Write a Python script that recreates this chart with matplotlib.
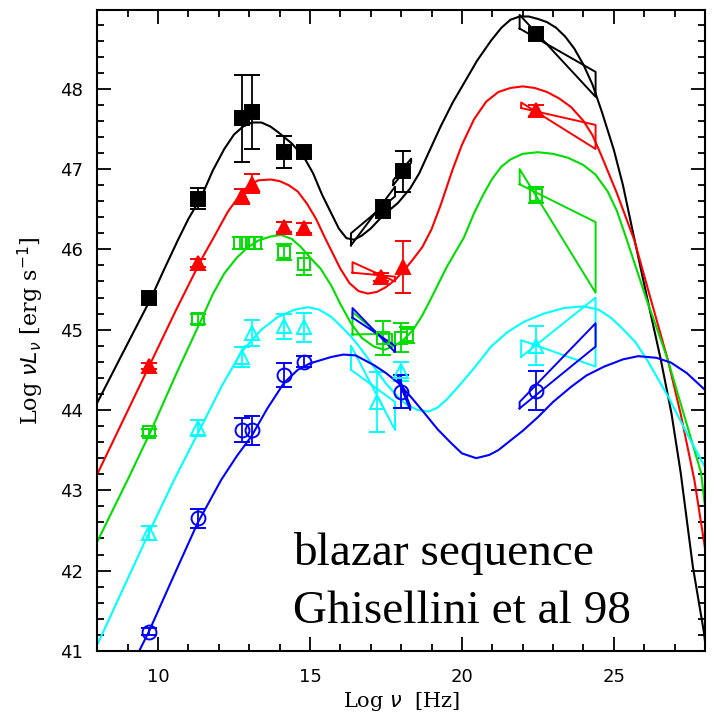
import matplotlib
matplotlib.use("Agg")
import matplotlib.pyplot as plt
from matplotlib.ticker import MultipleLocator

# ---------------- model curves ----------------
black_x = [8.0, 8.8, 9.78, 10.2, 10.66, 11.0, 11.42, 11.8, 12.18, 12.5, 12.8, 13.1, 13.4, 13.7, 13.95, 14.4, 14.8, 15.1, 15.4, 15.7, 15.95, 16.2, 16.45, 16.7, 17.0, 17.4, 17.9, 18.3, 18.6, 18.9, 19.3, 19.7, 20.07, 20.5, 20.96, 21.3, 21.6, 21.9, 22.2, 22.5, 22.8, 23.1, 23.4, 23.7, 24.0, 24.3, 24.6, 25.0, 25.3, 25.67, 26.1, 26.55, 26.9, 27.2, 27.6, 27.97, 28.0]
black_y = [44.09, 44.68, 45.4, 45.75, 46.12, 46.38, 46.65, 46.98, 47.25, 47.43, 47.53, 47.58, 47.58, 47.53, 47.46, 47.32, 47.15, 46.95, 46.68, 46.45, 46.26, 46.14, 46.12, 46.17, 46.26, 46.42, 46.58, 46.76, 46.95, 47.2, 47.53, 47.83, 48.07, 48.35, 48.6, 48.76, 48.86, 48.9, 48.9, 48.87, 48.83, 48.76, 48.65, 48.5, 48.3, 48.05, 47.72, 47.24, 46.8, 46.14, 45.39, 44.62, 43.95, 43.22, 42.05, 41.22, 41.12]

red_x = [8.0, 9.7, 10.6, 11.42, 11.85, 12.3, 12.74, 13.0, 13.3, 13.72, 14.0, 14.3, 14.6, 14.9, 15.2, 15.5, 15.75, 16.0, 16.3, 16.6, 16.9, 17.2, 17.5, 17.8, 18.1, 18.4, 18.7, 19.0, 19.3, 19.7, 20.0, 20.4, 20.8, 21.2, 21.6, 22.0, 22.4, 22.8, 23.2, 23.6, 24.0, 24.3, 24.6, 25.1, 25.67, 26.2, 26.78, 27.2, 27.65, 28.0]
red_y = [43.2, 44.54, 45.25, 45.87, 46.16, 46.47, 46.7, 46.8, 46.86, 46.87, 46.85, 46.8, 46.72, 46.57, 46.38, 46.14, 45.95, 45.76, 45.58, 45.48, 45.45, 45.47, 45.53, 45.62, 45.74, 45.88, 46.03, 46.25, 46.55, 47.0, 47.3, 47.62, 47.84, 47.96, 48.01, 48.03, 48.01, 47.96, 47.88, 47.77, 47.6, 47.42, 47.16, 46.7, 46.12, 45.4, 44.62, 43.95, 43.13, 42.28]

green_x = [8.0, 9.0, 9.78, 10.6, 11.42, 11.8, 12.18, 12.6, 12.97, 13.3, 13.7, 14.05, 14.4, 14.7, 15.0, 15.35, 15.7, 16.0, 16.35, 16.7, 17.1, 17.45, 17.8, 18.1, 18.4, 18.7, 19.0, 19.5, 20.07, 20.4, 20.7, 21.0, 21.3, 21.6, 22.0, 22.5, 23.0, 23.5, 24.0, 24.4, 24.8, 25.1, 25.4, 25.75, 26.1, 26.45, 26.78, 27.3, 27.87, 28.0]
green_y = [42.36, 43.13, 43.75, 44.45, 45.12, 45.44, 45.7, 45.9, 46.03, 46.11, 46.16, 46.18, 46.13, 46.03, 45.9, 45.76, 45.55, 45.32, 45.08, 44.9, 44.79, 44.75, 44.8, 44.88, 45.0, 45.18, 45.4, 45.78, 46.15, 46.45, 46.68, 46.88, 47.03, 47.12, 47.19, 47.21, 47.19, 47.14, 47.05, 46.93, 46.72, 46.48, 46.15, 45.75, 45.35, 44.98, 44.62, 43.95, 43.22, 42.8]

cyan_x = [8.03, 9.7, 10.53, 11.42, 12.1, 12.74, 13.4, 13.95, 14.5, 14.94, 15.3, 15.7, 16.0, 16.36, 16.7, 17.1, 17.5, 17.9, 18.2, 18.55, 18.9, 19.2, 19.5, 19.88, 20.4, 20.96, 21.5, 22.05, 22.7, 23.36, 24.0, 24.5, 24.9, 25.24, 25.7, 26.1, 26.8, 27.4, 28.0]
cyan_y = [41.1, 42.47, 43.13, 43.79, 44.3, 44.72, 45.0, 45.16, 45.25, 45.28, 45.25, 45.16, 45.05, 44.91, 44.75, 44.54, 44.33, 44.16, 44.06, 44.0, 43.98, 44.03, 44.13, 44.29, 44.52, 44.79, 44.97, 45.1, 45.2, 45.27, 45.29, 45.25, 45.15, 45.03, 44.85, 44.62, 44.16, 43.71, 43.29]

blue_x = [9.25, 9.7, 10.5, 11.3, 12.08, 12.6, 13.07, 13.6, 14.15, 14.6, 15.0, 15.7, 16.1, 16.5, 17.1, 17.5, 17.9, 18.35, 18.77, 19.2, 19.64, 20.0, 20.47, 20.9, 21.2, 21.5, 22.0, 22.5, 23.0, 23.6, 24.1, 24.68, 25.3, 25.8, 26.4, 26.88, 27.4, 28.0]
blue_y = [40.9, 41.24, 41.92, 42.59, 43.13, 43.43, 43.67, 44.02, 44.34, 44.5, 44.58, 44.66, 44.69, 44.68, 44.56, 44.46, 44.34, 44.15, 43.96, 43.76, 43.59, 43.46, 43.4, 43.44, 43.5, 43.59, 43.74, 43.91, 44.1, 44.29, 44.43, 44.54, 44.63, 44.67, 44.65, 44.59, 44.46, 44.25]

# ---------------- data points ----------------
black_px = [9.7, 11.3, 12.75, 13.1, 14.15, 14.8, 17.4, 18.05, 22.45]
black_py = [45.4, 46.63, 47.63, 47.71, 47.21, 47.21, 46.5, 46.97, 48.68]
black_pe = [0.03, 0.13, 0.54, 0.46, 0.2, 0.06, 0.11, 0.26, 0.07]

red_px = [9.7, 11.3, 12.75, 13.1, 14.15, 14.8, 17.35, 18.05, 22.45]
red_py = [44.55, 45.83, 46.66, 46.82, 46.28, 46.27, 45.66, 45.78, 47.73]
red_pe = [0.04, 0.05, 0.09, 0.12, 0.06, 0.06, 0.05, 0.32, 0.07]

green_px = [9.7, 11.3, 12.7, 12.95, 13.2, 14.15, 14.8, 17.4, 18.0, 18.2, 22.45]
green_py = [43.72, 45.13, 46.08, 46.08, 46.08, 45.97, 45.82, 44.9, 44.9, 44.93, 46.68]
green_pe = [0.04, 0.06, 0.07, 0.07, 0.07, 0.1, 0.14, 0.21, 0.18, 0.1, 0.1]

cyan_px = [9.7, 11.3, 12.75, 13.1, 14.15, 14.8, 17.2, 18.0, 22.45]
cyan_py = [42.47, 43.78, 44.66, 44.96, 45.04, 45.03, 44.1, 44.48, 44.8]
cyan_pe = [0.09, 0.1, 0.12, 0.16, 0.15, 0.18, 0.37, 0.12, 0.24]

blue_px = [9.7, 11.3, 12.75, 13.1, 14.15, 14.8, 18.0, 22.45]
blue_py = [41.24, 42.65, 43.75, 43.75, 44.44, 44.6, 44.23, 44.24]
blue_pe = [0.04, 0.12, 0.15, 0.18, 0.15, 0.07, 0.2, 0.24]

# ---------------- bow-ties (x-ray and gamma-ray spectra) ----------------
black_bow = [
    [(16.35, 46.05), (16.35, 46.2), (17.8, 46.66), (17.8, 46.78)],
    [(17.74, 46.8), (17.74, 46.86), (18.33, 47.13), (18.33, 47.08)],
    [(21.9, 48.75), (21.9, 48.92), (24.4, 47.9), (24.4, 48.21)],
]
red_bow = [
    [(16.4, 45.71), (16.4, 45.84), (17.8, 45.6), (17.8, 45.66)],
    [(21.95, 47.76), (21.95, 47.83), (24.4, 47.25), (24.4, 47.55)],
]
green_bow = [
    [(16.4, 44.94), (16.4, 45.22), (17.7, 44.8), (17.7, 44.95)],
    [(21.9, 46.81), (21.9, 47.0), (24.4, 45.46), (24.4, 46.34)],
]
cyan_bow = [
    [(16.35, 44.5), (16.35, 44.8), (17.8, 43.75), (17.8, 44.1)],
    [(21.95, 44.66), (21.95, 44.87), (24.4, 44.54), (24.4, 45.4)],
]
blue_bow = [
    [(16.4, 45.15), (16.4, 45.27), (17.8, 44.72), (17.8, 44.8)],
    [(17.9, 44.38), (17.9, 44.43), (18.3, 44.05), (18.3, 44.0)],
    [(21.9, 44.02), (21.9, 44.1), (24.4, 45.08), (24.4, 44.79)],
]

series = [
    ("black", black_x, black_y, black_px, black_py, black_pe, black_bow, "s", "black", 10),
    ("#ff0000", red_x, red_y, red_px, red_py, red_pe, red_bow, "^", "#ff0000", 9.5),
    ("#00dd00", green_x, green_y, green_px, green_py, green_pe, green_bow, "s", "none", 8),
    ("#00ffff", cyan_x, cyan_y, cyan_px, cyan_py, cyan_pe, cyan_bow, "^", "none", 9.5),
    ("#0000ff", blue_x, blue_y, blue_px, blue_py, blue_pe, blue_bow, "o", "none", 10),
]

fig = plt.figure(figsize=(7.15, 7.2), dpi=100)
ax = fig.add_axes([0.136, 0.096, 0.850, 0.890])

for col, cx, cy, px, py, pe, bows, mk, fc, ms in series:
    ax.plot(cx, cy, color=col, lw=1.5)
    ax.errorbar(px, py, yerr=pe, fmt=mk, color=col, mfc=fc, mec=col,
                ms=ms, mew=1.4, elinewidth=1.3, capsize=6, capthick=1.3)
    for b in bows:
        bx = [p[0] for p in b] + [b[0][0]]
        by = [p[1] for p in b] + [b[0][1]]
        ax.plot(bx, by, color=col, lw=1.4)

ax.set_xlim(8, 28)
ax.set_ylim(41, 48.98)
ax.xaxis.set_major_locator(MultipleLocator(5))
ax.xaxis.set_minor_locator(MultipleLocator(1))
ax.yaxis.set_major_locator(MultipleLocator(1))
ax.yaxis.set_minor_locator(MultipleLocator(0.2))
ax.tick_params(which="both", direction="in", top=True, right=True, width=1.3)
ax.tick_params(which="major", length=10, labelsize=13, pad=10)
ax.tick_params(axis="x", which="major", pad=12)
ax.tick_params(which="minor", length=5)
for s in ax.spines.values():
    s.set_linewidth(1.5)

ax.set_xlabel(r"Log $\nu$  [Hz]", fontsize=15, family="DejaVu Serif", labelpad=3)
ax.set_ylabel(r"Log $\nu L_\nu$ [erg s$^{-1}$]", fontsize=16, family="DejaVu Serif", labelpad=10)

ax.text(0.322, 0.134, "blazar sequence", transform=ax.transAxes,
        fontsize=34, family="Liberation Serif", va="baseline", ha="left")
ax.text(0.322, 0.044, "Ghisellini et al 98", transform=ax.transAxes,
        fontsize=34, family="Liberation Serif", va="baseline", ha="left")

plt.savefig("out.png", dpi=100)
